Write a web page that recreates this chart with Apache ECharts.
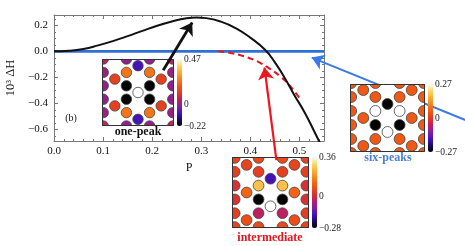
<!DOCTYPE html>
<html><head><meta charset="utf-8">
<script src="https://cdn.jsdelivr.net/npm/echarts@6/dist/echarts.min.js"></script>
<style>html,body{margin:0;padding:0;background:#fff}#c{width:465px;height:246px}</style>
</head><body><div id="c"></div>
<script>
// ---------- main panel data ----------
const pOnePeak = [0, 0.03, 0.06, 0.09, 0.12, 0.15, 0.18, 0.21, 0.24, 0.27, 0.29, 0.31, 0.34, 0.37, 0.40, 0.43, 0.45, 0.47, 0.49, 0.51, 0.53, 0.55];
const hOnePeak = [0, 0.004, 0.018, 0.046, 0.079, 0.117, 0.158, 0.197, 0.230, 0.255, 0.261, 0.256, 0.229, 0.179, 0.106, 0.012, -0.085, -0.205, -0.339, -0.466, -0.615, -0.77];
const pInter = [0.335, 0.36, 0.38, 0.40, 0.42, 0.44, 0.46, 0.48, 0.50];
const hInter = [0, -0.012, -0.03, -0.055, -0.088, -0.135, -0.19, -0.262, -0.36];
const pSix = [0, 0.55];
const hSix = [0, 0];

// tick labels
const xMajor = [0, 0.1, 0.2, 0.3, 0.4, 0.5];
const yMajor = [-0.6, -0.4, -0.2, 0, 0.2];

// arrows (data coordinates of tail and head)
const arrowOne = [[0.2224, -0.146], [0.2815, 0.222]];
const arrowInter = [[0.453, -0.838], [0.4288, -0.125]];
const arrowSix = [[0.849, -0.546], [0.525, -0.048]];

// ---------- inset lattices: [column, half-row, value] ----------
const onePeakSites = [
  [0,0,0.47],[0,4,-0.09],[0,-4,-0.09],
  [-1,1,-0.22],[1,1,-0.22],[-1,-1,-0.22],[1,-1,-0.22],
  [-1,3,0.24],[1,3,0.24],[-1,-3,0.24],[1,-3,0.24],
  [-1,5,0.0],[1,5,0.0],[-1,-5,0.0],[1,-5,0.0],
  [-2,2,0.14],[2,2,0.14],[-2,-2,0.14],[2,-2,0.14],
  [-3,1,0.0],[3,1,0.0],[-3,-1,0.0],[3,-1,0.0],
  [-3,3,0.01],[3,3,0.01],[-3,-3,0.01],[3,-3,0.01],
  [-3,5,0.06],[3,5,0.06],[-3,-5,0.06],[3,-5,0.06]
];
const interSites = [
  [0,2,-0.16],[0,-2,0.36],
  [-1,1,0.26],[1,1,0.26],[-1,-1,-0.28],[1,-1,-0.28],
  [-1,-3,-0.03],[1,-3,-0.03],[-1,3,0.05],[1,3,0.05],
  [-1,5,0.07],[1,5,0.07],[-1,-5,0.07],[1,-5,0.07],
  [-2,0,0.12],[2,0,0.12],[-2,4,0.06],[2,4,0.06],[-2,-4,0.08],[2,-4,0.08],
  [-3,1,0.02],[3,1,0.02],[-3,-1,0.02],[3,-1,0.02],
  [-3,3,0.05],[3,3,0.05],[-3,-3,0.05],[3,-3,0.05],
  [-3,5,0.06],[3,5,0.06],[-3,-5,0.06],[3,-5,0.06]
];
const sixSites = [
  [0,2,-0.27],[0,-2,0.27],
  [-1,1,0.27],[1,1,0.27],[-1,-1,-0.27],[1,-1,-0.27],
  [-1,3,0.05],[1,3,0.05],[-1,-3,0.05],[1,-3,0.05],
  [-1,5,0.05],[1,5,0.05],[-1,-5,0.05],[1,-5,0.05],
  [-2,0,0.05],[2,0,0.05],[-2,4,0.05],[2,4,0.05],[-2,-4,0.05],[2,-4,0.05],
  [-3,1,0.05],[3,1,0.05],[-3,-1,0.05],[3,-1,0.05],
  [-3,3,0.05],[3,3,0.05],[-3,-3,0.05],[3,-3,0.05],
  [-3,5,0.05],[3,5,0.05],[-3,-5,0.05],[3,-5,0.05]
];
const onePeakRange = [-0.22, 0.47];
const interRange = [-0.28, 0.36];
const sixRange = [-0.27, 0.27];

// ---------- styling / layout ----------
const SERIF = 'Liberation Serif';
const AX = '#777';
const SUNSET = ['#000000','#1e0a6a','#4a14c0','#8a1e9c','#c0205a','#e23a22','#f05a14','#f5821a','#faae30','#fdd86a','#ffffff'];
const MAIN = {left:54, top:15, width:270, height:126};
const INS = [
  {box:{left:102, top:59, width:72, height:67}, cb:{left:177, top:59, width:5, height:67}, hx:2.69, hy:2.5},
  {box:{left:232, top:157, width:77, height:71}, cb:{left:312, top:157, width:5, height:71}, hx:2.79, hy:2.57},
  {box:{left:350, top:84, width:75, height:68}, cb:{left:428, top:84, width:5, height:68}, hx:2.68, hy:2.43}
];
const SQ = Math.sqrt(3) / 2;
const r2 = v => Math.round(v * 1000) / 1000;
const xMinor = [], yMinor = [];
for (let i = 0; i <= 27; i++) { const v = r2(i * 0.02); if (i % 5) xMinor.push(v); }
for (let i = -13; i <= 5; i++) { const v = r2(i * 0.05); if (i % 4) yMinor.push(v); }
const fmt1 = v => (v < -1e-9 ? '\u2212' : '') + Math.abs(v).toFixed(1);
const fmt2 = v => Math.abs(v) < 1e-9 ? '0' : (v < 0 ? '\u2212' : '') + Math.abs(v).toFixed(2);
const zip = (a, b) => a.map((v, i) => [v, b[i]]);

const grids = [MAIN, MAIN].concat(INS.map(s => s.box), INS.map(s => s.cb))
  .map(g => Object.assign({}, g, {show:false, containLabel:false, outerBoundsMode:'none'}));

function frameAxis(kind, grid, pos, ticks, len, labels, line, extra) {
  const a = {
    type:'value', gridIndex:grid, position:pos,
    min: kind === 'x' ? 0 : -0.69, max: kind === 'x' ? 0.55 : 0.28,
    axisLine:{show:line, onZero:false, lineStyle:{color:AX, width:1}},
    axisTick:{show:true, inside:true, length:len, customValues:ticks, lineStyle:{color:AX, width:1}},
    axisLabel:{show:labels, customValues:ticks, formatter:fmt1, fontFamily:SERIF, fontSize:11, color:'#111', margin: kind === 'x' ? 5 : 6},
    splitLine:{show:false}, minorTick:{show:false}
  };
  return Object.assign(a, extra || {});
}
const hidden = (g, h) => ({type:'value', gridIndex:g, min:-h, max:h, show:false, splitLine:{show:false}});

const xAxes = [
  frameAxis('x', 0, 'bottom', xMajor, 4, true, true, {name:'P', nameLocation:'middle', nameGap:19, nameTextStyle:{fontFamily:SERIF, fontSize:12, color:'#111'}}),
  frameAxis('x', 0, 'top', xMajor, 4, false, true),
  frameAxis('x', 1, 'bottom', xMinor, 2, false, false),
  frameAxis('x', 1, 'top', xMinor, 2, false, false)
].concat(INS.map((s, i) => hidden(2 + i, s.hx)), INS.map((s, i) => ({type:'value', gridIndex:5 + i, show:false, min:0, max:1})));

const ranges = [onePeakRange, interRange, sixRange];
const yAxes = [
  frameAxis('y', 0, 'left', yMajor, 4, true, true, {name:'10\u00b3 \u0394H', nameLocation:'middle', nameGap:37, nameRotate:90, nameTextStyle:{fontFamily:SERIF, fontSize:12.5, color:'#111'}}),
  frameAxis('y', 0, 'right', yMajor, 4, false, true),
  frameAxis('y', 1, 'left', yMinor, 2, false, false),
  frameAxis('y', 1, 'right', yMinor, 2, false, false)
].concat(INS.map((s, i) => hidden(2 + i, s.hy)), ranges.map((r, i) => ({
  type:'value', gridIndex:5 + i, position:'right', min:r[0], max:r[1],
  axisLine:{show:false}, axisTick:{show:false}, splitLine:{show:false},
  axisLabel:{show:true, customValues:[r[0], 0, r[1]], formatter:fmt2, fontFamily:SERIF, fontSize:9.5, color:'#222', margin:2}
})));

function insetSeries(sites, idx) {
  return {
    type:'custom', xAxisIndex:4 + idx, yAxisIndex:4 + idx, clip:true, z:12, silent:true,
    data: sites.map(s => [s[0] * SQ, s[1] / 2, s[2]]),
    encode:{x:0, y:1},
    renderItem: (params, api) => {
      const c = api.coord([api.value(0), api.value(1)]);
      const sz = api.size([1, 1]);
      const r = 0.39 * (sz[0] + sz[1]) / 2;
      return {type:'circle', shape:{cx:c[0], cy:c[1], r:r},
        style:{fill:api.visual('color'), stroke:'#444', lineWidth:0.8}};
    }
  };
}
function arrow(coords, color, width, z) {
  return {type:'lines', coordinateSystem:'cartesian2d', xAxisIndex:0, yAxisIndex:0, clip:false, z:z, silent:true,
    symbol:['none','arrow'], symbolSize:[9, 12],
    lineStyle:{color:color, width:width, opacity:1, curveness:0},
    data:[{coords:coords}]};
}

const series = [
  {type:'line', xAxisIndex:0, yAxisIndex:0, data:zip(pSix, hSix), symbol:'none', lineStyle:{color:'#2f6fd6', width:2.6}, z:2},
  {type:'line', xAxisIndex:0, yAxisIndex:0, data:zip(pInter, hInter), symbol:'none', smooth:true, lineStyle:{color:'#e8141c', width:2, type:[6,4]}, z:2},
  {type:'line', xAxisIndex:0, yAxisIndex:0, data:zip(pOnePeak, hOnePeak), symbol:'none', smooth:true, lineStyle:{color:'#111', width:2}, z:2},
  arrow(arrowSix, '#3a7ae6', 2, 3),
  insetSeries(onePeakSites, 0),
  insetSeries(interSites, 1),
  insetSeries(sixSites, 2),
  arrow(arrowOne, '#111', 2.8, 20),
  arrow(arrowInter, '#f0141c', 2.2, 20)
];

const visualMaps = ranges.map((r, i) => ({
  type:'continuous', seriesIndex:4 + i, dimension:2, min:r[0], max:r[1],
  inRange:{color:SUNSET}, orient:'vertical', calculable:false, hoverLink:false,
  left:INS[i].cb.left, top:INS[i].cb.top, itemWidth:INS[i].cb.width, itemHeight:INS[i].cb.height,
  padding:0, text:null, show:true
}));

const graphic = [];
INS.forEach(s => {
  const b = s.box;
  graphic.push({type:'rect', z:10, silent:true, shape:{x:b.left, y:b.top, width:b.width, height:b.height}, style:{fill:'#fff'}});
  graphic.push({type:'rect', z:15, silent:true, shape:{x:b.left + 0.5, y:b.top + 0.5, width:b.width - 1, height:b.height - 1}, style:{fill:null, stroke:'#333', lineWidth:1}});
});
const txt = (x, y, text, size, color, weight) => ({type:'text', z:16, silent:true, x:x, y:y,
  style:{text:text, fontFamily:SERIF, fontSize:size, fontWeight:weight || 'normal', fill:color, align:'center', verticalAlign:'middle'}});
graphic.push(txt(71, 118, '(b)', 10, '#111'));
graphic.push(txt(138, 132, 'one-peak', 12, '#111', 'bold'));
graphic.push(txt(270, 238, 'intermediate', 12, '#e8141c', 'bold'));
graphic.push(txt(388, 158, 'six-peaks', 12, '#4a7fd9', 'bold'));

const chart = echarts.init(document.getElementById('c'), null, {renderer:'canvas'});
chart.setOption({
  animation:false, backgroundColor:'#fff',
  grid:grids, xAxis:xAxes, yAxis:yAxes, visualMap:visualMaps, series:series, graphic:graphic
});
</script></body></html>
